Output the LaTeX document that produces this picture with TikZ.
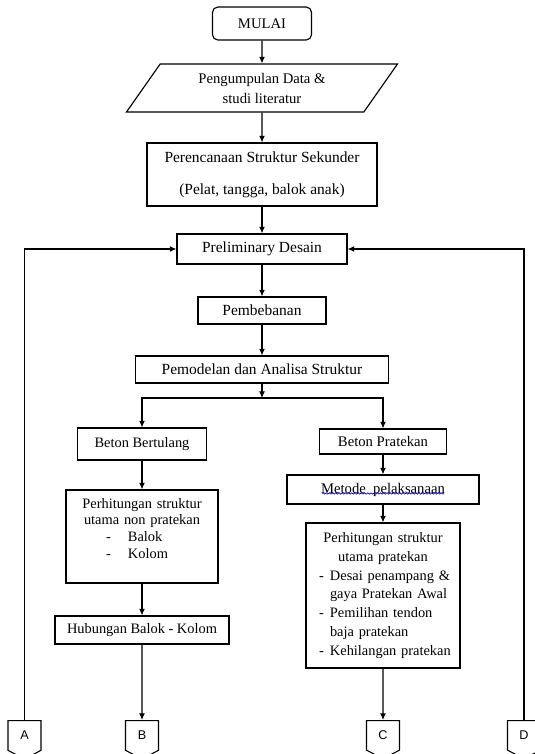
\documentclass[tikz,border=0pt]{standalone}
\usepackage{fontspec}
\setmainfont{Liberation Serif}
\newfontfamily\lblfont{Liberation Sans}
\usetikzlibrary{arrows.meta,shapes.geometric,shapes.symbols,decorations.pathmorphing,calc}

\newcommand\bigtxt{\fontsize{11.6}{14.2}\selectfont}
\newcommand\midtxt{\fontsize{11}{15}\selectfont}
\newcommand\smalltxt{\fontsize{10.8}{14.2}\selectfont}
\newcommand\dashitem[3]{\makebox[\hsize][l]{\hspace*{#1}\makebox[#2][l]{-}#3}}
\newcommand\contline[2]{\makebox[\hsize][l]{\hspace*{#1}#2}}

\tikzset{
  box/.style={draw, line width=0.85pt, inner sep=0pt, font=\smalltxt, align=center},
  start/.style={box, rounded corners=4pt},
  iobox/.style={box, trapezium, trapezium left angle=42, trapezium right angle=138,
    trapezium stretches body},
  offpage/.style={draw, line width=0.8pt, signal, signal to=south, signal pointer angle=124,
    minimum width=24.75pt, minimum height=24pt, inner sep=0pt,
    font=\lblfont\fontsize{9.5}{9.5}\selectfont},
  line/.style={line width=0.85pt}
}

\begin{document}
\begin{tikzpicture}[x=0.75pt, y=-0.75pt, >={Latex[length=5pt,width=4.5pt]}]

\useasboundingbox (0,0) rectangle (535,754);

\node [start, minimum width=74.25pt, minimum height=24.75pt, font=\midtxt] (mulai) at (262,23.5) {MULAI};
\node [iobox, minimum width=203.25pt, minimum height=36pt, font=\midtxt] (data) at (262,88)
  {Pengumpulan Data \&\\studi literatur};
\node [box, minimum width=172.5pt, minimum height=47.25pt, font=\bigtxt] (rencana) at (262,174.5)
  {Perencanaan Struktur Sekunder\\[9.8pt](Pelat, tangga, balok anak)};
\node [box, minimum width=127.5pt, minimum height=22.5pt, font=\bigtxt] (prelim) at (262,249) {Preliminary Desain};
\node [box, minimum width=96pt, minimum height=20.25pt, font=\bigtxt] (beban) at (262,310.5) {Pembebanan};
\node [box, minimum width=189.75pt, minimum height=20.25pt, font=\bigtxt] (model) at (262,369.5)
  {Pemodelan dan Analisa Struktur};
\coordinate (split) at (262,398);

\node [box, minimum width=96.75pt, minimum height=24pt] (bertulang) at (142,444) {Beton Bertulang};
\node [box, text width=114pt, minimum height=69.75pt, font=\fontsize{10.8}{12.5}\selectfont] (nonpra) at (142,536.5)
  {Perhitungan struktur\\utama non pratekan\\\dashitem{30pt}{16.5pt}{Balok}\\\dashitem{30pt}{16.5pt}{Kolom}\\\mbox{}};
\node [box, minimum width=130.5pt, minimum height=21pt] (hubungan) at (142,630) {Hubungan Balok - Kolom};

\node [box, minimum width=95.25pt, minimum height=18.75pt, font=\midtxt] (pratekan) at (383,441.5) {Beton Pratekan};
\node [box, minimum width=144pt, minimum height=21.75pt, font=\midtxt] (metode) at (383,489.5) {Metode~ pelaksanaan};
\node [box, text width=115.5pt, minimum height=108.75pt] (hitpra) at (383,595.5)
  {Perhitungan struktur\\utama pratekan\\\dashitem{9.75pt}{8.25pt}{Desai penampang \&}\\\contline{18pt}{gaya Pratekan Awal}\\\dashitem{9.75pt}{8.25pt}{Pemilihan tendon}\\\contline{18pt}{baja pratekan}\\\dashitem{9.75pt}{8.25pt}{Kehilangan pratekan}};

\foreach \n/\x in {A/24.5, B/142, C/383, D/524}
  \node [offpage, anchor=north] (off-\n) at (\x,720) {\n};

\foreach \a/\b in {mulai/data, data/rencana, rencana/prelim, prelim/beban, beban/model,
    bertulang/nonpra, nonpra/hubungan, hubungan/off-B, pratekan/metode, metode/hitpra, hitpra/off-C}
  \draw [line, ->] (\a) -- (\b);

\draw [line, ->] (model) -- (split);
\draw [line, ->] (split) -| (bertulang);
\draw [line, ->] (split) -| (pratekan);

\draw [line, ->] (off-A) |- (prelim);
\draw [line, ->] (off-D) |- (prelim);

\draw [blue!75!black, line width=0.5pt, decorate, decoration={snake, amplitude=0.5pt, segment length=2.4pt}]
  ($(metode.center)+(-61,4)$) -- ($(metode.center)+(61,4)$);

\end{tikzpicture}
\end{document}
